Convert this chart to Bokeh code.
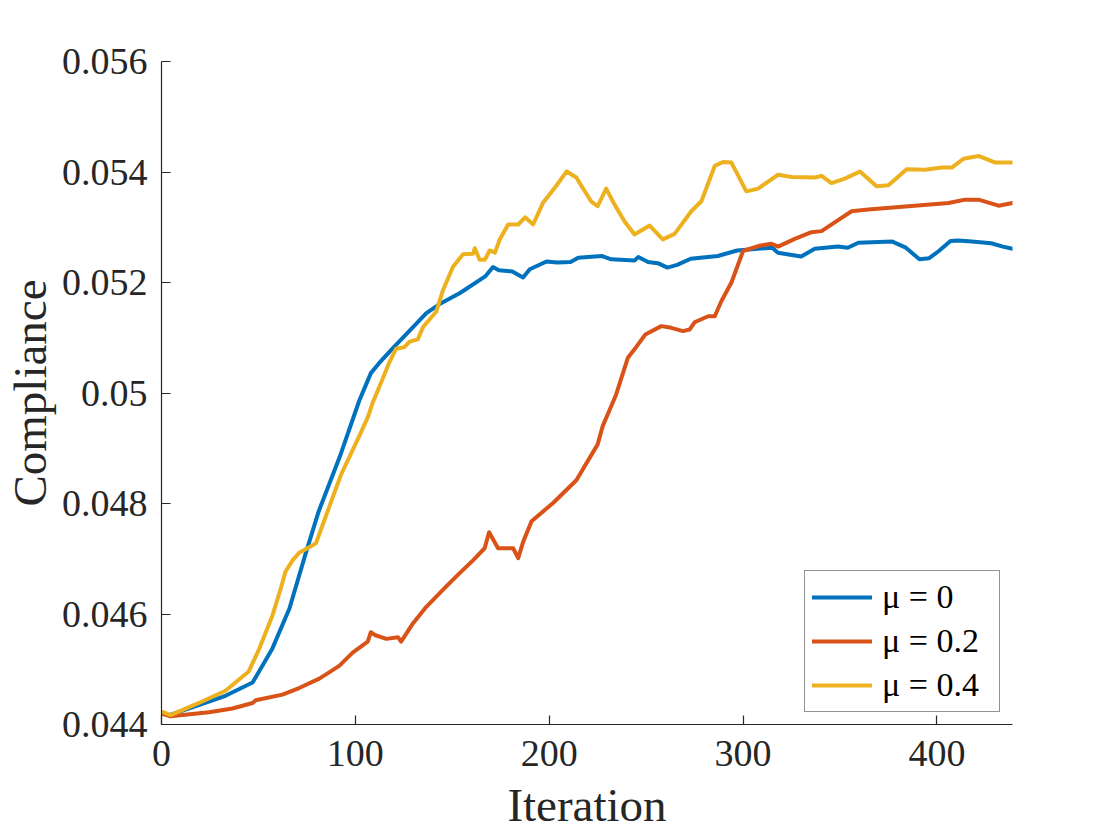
from bokeh.plotting import figure
from bokeh.models import Range1d, FixedTicker, Legend, LegendItem
from bokeh.embed import file_html
from bokeh.resources import INLINE

# ---- data ----
x_mu0 = [0, 4, 20, 33, 47, 57, 66, 74.5, 81, 92, 102, 108, 112, 119, 130, 136.5, 143, 154, 167, 171,
         174, 181, 186.5, 190, 198.6, 204, 211, 215, 227, 232, 244, 246, 251, 256, 261, 266, 273, 287,
         297, 315, 318, 330, 337, 349, 354, 359.5, 377, 384, 391, 396, 401, 407, 411, 418, 428, 434, 439]
y_mu0 = [0.04422, 0.04417, 0.04436, 0.04452, 0.04476, 0.04536, 0.04610, 0.04711, 0.04785, 0.04885,
         0.04986, 0.05036, 0.05053, 0.05080, 0.05120, 0.05144, 0.05160, 0.05181, 0.05211, 0.05228,
         0.05222, 0.05220, 0.05209, 0.05224, 0.05238, 0.05236, 0.05237, 0.05245, 0.05248, 0.05242,
         0.05240, 0.05246, 0.05237, 0.05235, 0.05227, 0.05232, 0.05243, 0.05248, 0.05258, 0.05263,
         0.05254, 0.05247, 0.05261, 0.05265, 0.05263, 0.05272, 0.05274, 0.05263, 0.05242, 0.05244,
         0.05257, 0.05275, 0.05276, 0.05274, 0.05271, 0.05265, 0.05261]

x_mu02 = [0, 4.7, 24.5, 36.6, 47, 48.6, 62.4, 71, 81.4, 91.7, 98.6, 106.4, 108, 110, 116, 122, 123.6,
          129.7, 136.6, 146.9, 153.8, 160.7, 166.7, 169, 173.6, 181.4, 184, 186.6, 190.9, 202, 214, 225,
          227.6, 234.5, 240.6, 244, 249.6, 257.8, 263, 269, 272.5, 275, 282, 285.4, 288.8, 294, 300,
          307.8, 314.7, 318.1, 326.7, 335.3, 340.5, 350.8, 356, 364.6, 385.3, 406, 414.6, 421.5, 431.8, 439]
y_mu02 = [0.04420, 0.04415, 0.04422, 0.04429, 0.04439, 0.04444, 0.04454, 0.04466, 0.04483, 0.04506,
          0.04530, 0.04550, 0.04567, 0.04562, 0.04555, 0.04558, 0.04550, 0.04583, 0.04613, 0.04650,
          0.04674, 0.04697, 0.04719, 0.04748, 0.04719, 0.04719, 0.04701, 0.04731, 0.04768, 0.04801,
          0.04842, 0.04907, 0.04940, 0.04997, 0.05064, 0.05079, 0.05106, 0.05121, 0.05118, 0.05112,
          0.05115, 0.05128, 0.05139, 0.05139, 0.05166, 0.05200, 0.05257, 0.05266, 0.05270, 0.05265,
          0.05279, 0.05291, 0.05293, 0.05317, 0.05329, 0.05332, 0.05338, 0.05344, 0.05350, 0.05350,
          0.05339, 0.05344]

x_mu04 = [0, 1.2, 4.7, 19.3, 33, 45, 50.3, 57.2, 61.6, 64, 67.6, 71, 76.2, 79.7, 83.1, 88.3, 92.6, 102,
          106.4, 109, 113.3, 117.6, 121, 125.3, 128, 132.2, 135, 141.7, 145, 150.3, 155.5, 160.7, 161.6,
          164.1, 166.8, 169.3, 172, 174.5, 178.8, 184, 187.6, 191.7, 196.9, 203, 209, 214, 217.3, 221.6,
          225, 229.4, 233.7, 238.8, 244, 251.8, 258.6, 264.7, 273.3, 278.5, 285.4, 289.7, 294, 301.7,
          307.8, 318.1, 325, 337, 340.5, 345.6, 352.5, 360.3, 368.9, 375, 384.4, 393.9, 402.5, 407.7,
          413.7, 421.5, 430.1, 439]
y_mu04 = [0.04422, 0.04422, 0.04417, 0.04439, 0.04461, 0.04496, 0.04536, 0.04597, 0.04647, 0.04677,
          0.04697, 0.04711, 0.04721, 0.04728, 0.04761, 0.04811, 0.04852, 0.04922, 0.04956, 0.04983,
          0.05019, 0.05056, 0.05080, 0.05083, 0.05093, 0.05097, 0.05120, 0.05147, 0.05184, 0.05228,
          0.05251, 0.05252, 0.05262, 0.05241, 0.05241, 0.05258, 0.05254, 0.05278, 0.05305, 0.05305,
          0.05318, 0.05305, 0.05345, 0.05372, 0.05401, 0.05390, 0.05371, 0.05347, 0.05338, 0.05370,
          0.05341, 0.05311, 0.05287, 0.05303, 0.05278, 0.05288, 0.05329, 0.05347, 0.05411, 0.05418,
          0.05417, 0.05365, 0.05370, 0.05395, 0.05391, 0.05390, 0.05393, 0.05380, 0.05388, 0.05401,
          0.05374, 0.05376, 0.05405, 0.05404, 0.05408, 0.05408, 0.05424, 0.05429, 0.05417, 0.05417]

labels = ["\u03bc = 0", "\u03bc = 0.2", "\u03bc = 0.4"]
colors = ["#0072BD", "#D95319", "#EDB120"]
x_ticks = [0, 100, 200, 300, 400]
y_ticks = [0.044, 0.046, 0.048, 0.050, 0.052, 0.054, 0.056]
y_tick_labels = ["0.044", "0.046", "0.048", "0.05", "0.052", "0.054", "0.056"]

FONT = "Liberation Serif"
INK = "#262626"

p = figure(output_backend="svg", toolbar_location=None,
           frame_width=851, frame_height=663,
           min_border_left=150, min_border_top=61, min_border_right=90, min_border_bottom=95,
           x_range=Range1d(0, 439), y_range=Range1d(0.044, 0.056),
           background_fill_color="white", border_fill_color="white")
p.outline_line_color = None
p.grid.visible = False

series = [(x_mu0, y_mu0), (x_mu02, y_mu02), (x_mu04, y_mu04)]
renderers = []
for (xs, ys), c in zip(series, colors):
    r = p.line(xs, ys, line_color=c, line_width=4, line_join="round", line_cap="round")
    renderers.append(r)

for ax in (p.xaxis[0], p.yaxis[0]):
    ax.axis_line_color = INK
    ax.axis_line_width = 1.2
    ax.major_tick_line_color = INK
    ax.major_tick_line_width = 1.2
    ax.major_tick_in = 9
    ax.major_tick_out = 0
    ax.minor_tick_line_color = None
    ax.major_label_text_font = FONT
    ax.major_label_text_font_size = "38px"
    ax.major_label_text_color = INK
    ax.axis_label_text_font = FONT
    ax.axis_label_text_font_size = "47px"
    ax.axis_label_text_font_style = "normal"
    ax.axis_label_text_color = INK

p.xaxis[0].ticker = FixedTicker(ticks=x_ticks)
p.yaxis[0].ticker = FixedTicker(ticks=y_ticks)
p.yaxis[0].major_label_overrides = {t: s for t, s in zip(y_ticks, y_tick_labels)}
p.xaxis[0].axis_label = "Iteration"
p.yaxis[0].axis_label = "Compliance"
p.xaxis[0].major_label_standoff = 16
p.yaxis[0].major_label_standoff = 14
p.xaxis[0].axis_label_standoff = 10
p.yaxis[0].axis_label_standoff = 3

legend = Legend(items=[LegendItem(label=l, renderers=[r]) for l, r in zip(labels, renderers)],
                location="bottom_right", margin=12,
                label_text_font=FONT, label_text_font_size="34px", label_text_color="black",
                glyph_width=60, glyph_height=36, label_height=36, label_width=110,
                label_standoff=10, spacing=6, padding=7,
                border_line_color=INK, border_line_width=1.2,
                background_fill_color="white", background_fill_alpha=1.0)
p.add_layout(legend, "center")

open("out.html", "w").write(file_html(p, INLINE))
